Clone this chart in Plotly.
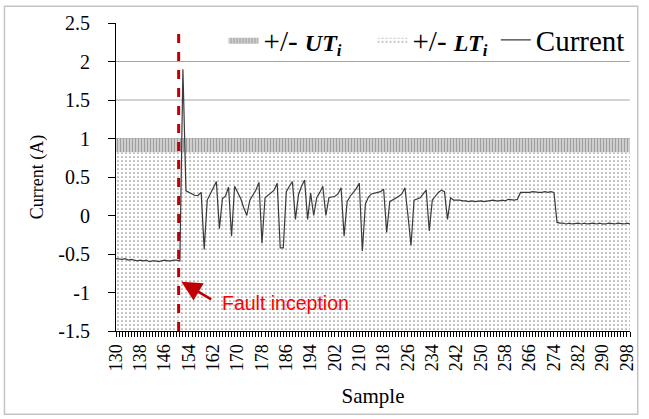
import plotly.graph_objects as go

# Sample index and measured current (A)
samples = list(range(130, 300))
current = [
    -0.56, -0.57, -0.57, -0.56, -0.58, -0.57, -0.58, -0.59, -0.58, -0.59,   # 130-139
    -0.58, -0.60, -0.59, -0.59, -0.60, -0.59, -0.58, -0.59, -0.59, -0.58,   # 140-149
    -0.58, -0.59, 1.90, 0.32, 0.30, 0.27, 0.26, 0.26, 0.30, -0.44,          # 150-159
    0.20, 0.28, 0.37, 0.44, -0.17, 0.22, 0.25, 0.37, -0.27, 0.38,           # 160-169
    0.30, 0.22, 0.10, 0.00, 0.20, 0.27, 0.33, 0.43, -0.36, 0.23,            # 170-179
    0.26, 0.30, 0.33, 0.42, -0.42, -0.42, 0.31, 0.38, 0.44, -0.05,          # 180-189
    0.27, 0.38, 0.46, -0.05, 0.29, 0.00, 0.23, 0.30, 0.38, 0.00,            # 190-199
    0.23, 0.24, 0.25, 0.28, 0.36, -0.27, 0.18, 0.25, 0.30, 0.35,            # 200-209
    0.42, -0.46, 0.15, 0.24, 0.28, 0.29, 0.30, 0.31, 0.34, -0.22,           # 210-219
    0.18, 0.20, 0.23, 0.25, 0.28, 0.36, 0.00, -0.39, 0.20, 0.21,            # 220-229
    0.23, 0.28, 0.33, -0.20, 0.20, 0.25, 0.30, 0.33, 0.31, -0.05,           # 230-239
    0.23, 0.20, 0.20, 0.20, 0.19, 0.19, 0.18, 0.19, 0.18, 0.19,             # 240-249
    0.19, 0.18, 0.19, 0.19, 0.20, 0.19, 0.19, 0.20, 0.19, 0.21,             # 250-259
    0.20, 0.20, 0.21, 0.30, 0.30, 0.30, 0.30, 0.31, 0.30, 0.30,             # 260-269
    0.30, 0.31, 0.30, 0.31, 0.30, -0.09, -0.10, -0.10, -0.11, -0.10,        # 270-279
    -0.11, -0.10, -0.10, -0.11, -0.10, -0.11, -0.10, -0.10, -0.11, -0.10,   # 280-289
    -0.11, -0.11, -0.10, -0.11, -0.11, -0.10, -0.11, -0.11, -0.10, -0.11,   # 290-299
]

# Threshold bands
band_floor = -1.5
lt_level = 0.82
ut_level = 1.0
fault_sample = 150.6

x_ticks = list(range(130, 299, 8))
y_ticks = [-1.5, -1.0, -0.5, 0.0, 0.5, 1.0, 1.5, 2.0, 2.5]
y_ticktext = ["-1.5", "-1", "-0.5", "0", "0.5", "1", "1.5", "2", "2.5"]
y_gridlines = [-1.0, -0.5, 0.0, 0.5, 1.0, 1.5, 2.0]

SERIF = "Liberation Serif"
n = len(samples)

fig = go.Figure()

# invisible floor for the stacked threshold bands
fig.add_trace(go.Scatter(
    x=samples, y=[band_floor] * n, mode="lines",
    line=dict(width=0), showlegend=False, hoverinfo="skip",
))
fig.add_trace(go.Scatter(
    x=samples, y=[lt_level] * n, mode="lines", line=dict(width=0),
    fill="tonexty", fillcolor="white",
    fillpattern=dict(shape=".", size=4, solidity=0.14, fgcolor="#1a1a1a", bgcolor="white"),
    name="+/- <span style='font-size:24px'><b><i>LT<sub>i</sub></i></b></span>",
    legend="legend2",
))
fig.add_trace(go.Scatter(
    x=samples, y=[ut_level] * n, mode="lines", line=dict(width=0),
    fill="tonexty", fillcolor="white",
    fillpattern=dict(shape="|", size=3, solidity=0.5, fgcolor="#606060", bgcolor="#dedede"),
    name="+/- <span style='font-size:24px'><b><i>UT<sub>i</sub></i></b></span>",
    legend="legend",
))
fig.add_trace(go.Scatter(
    x=samples, y=current, mode="lines",
    line=dict(color="#3a3a3a", width=1.2),
    name="Current", legend="legend3",
))

# horizontal gridlines (none on the top edge)
for gy in y_gridlines:
    fig.add_shape(type="line", xref="paper", yref="y", x0=0, x1=1, y0=gy, y1=gy,
                  line=dict(color="#a6a6a6", width=1), layer="below")

# fault inception marker
fig.add_shape(type="line", xref="x", yref="y",
              x0=fault_sample, x1=fault_sample, y0=band_floor, y1=2.45,
              line=dict(color="#c00000", width=3, dash="dash"))

fig.add_annotation(x=151.5, y=-0.86, ax=161.8, ay=-1.1, axref="x", ayref="y",
                   xref="x", yref="y", text="", showarrow=True,
                   arrowhead=2, arrowsize=1.6, arrowwidth=2.5, arrowcolor="#c00000")
fig.add_annotation(x=164.3, y=-1.13, xref="x", yref="y", text="Fault inception",
                   showarrow=False, xanchor="left", yanchor="middle",
                   font=dict(family="Liberation Sans", size=19.5, color="#ff0000"))

# outer chart frame
fig.add_shape(type="rect", xref="paper", yref="paper",
              x0=-0.217, x1=1.015, y0=-0.27, y1=1.0547,
              line=dict(color="#c4c4c4", width=1.5))

legend_style = dict(orientation="h", yanchor="middle", y=0.945, xanchor="left",
                    font=dict(family=SERIF, size=29, color="black"),
                    bgcolor="rgba(0,0,0,0)", itemwidth=30)

fig.update_layout(
    width=649, height=419,
    margin=dict(l=116, r=12, t=20, b=88),
    paper_bgcolor="white", plot_bgcolor="white",
    font=dict(family=SERIF, color="black"),
    legend=dict(legend_style, x=(225 - 116) / 521),
    legend2=dict(legend_style, x=(376 - 116) / 521),
    legend3=dict(legend_style, x=(501 - 116) / 521),
    xaxis=dict(
        range=[130, 299], tickvals=x_ticks, tickangle=-90,
        tickfont=dict(family=SERIF, size=18, color="black"),
        showline=True, linecolor="black", linewidth=1,
        ticks="outside", ticklen=5, tickcolor="black",
        minor=dict(dtick=1, ticks="outside", ticklen=5, tickcolor="black", showgrid=False),
        showgrid=False, zeroline=False,
        title=dict(text="Sample", font=dict(family=SERIF, size=21), standoff=18),
    ),
    yaxis=dict(
        range=[-1.5, 2.5], tickvals=y_ticks, ticktext=y_ticktext,
        tickfont=dict(family=SERIF, size=20, color="black"),
        showline=True, linecolor="black", linewidth=1,
        ticks="outside", ticklen=7, tickcolor="black",
        showgrid=False, zeroline=False,
        ticklabelstandoff=14,
        title=dict(text="Current (A)", font=dict(family=SERIF, size=18), standoff=10),
    ),
)

fig.write_html("out.html")
